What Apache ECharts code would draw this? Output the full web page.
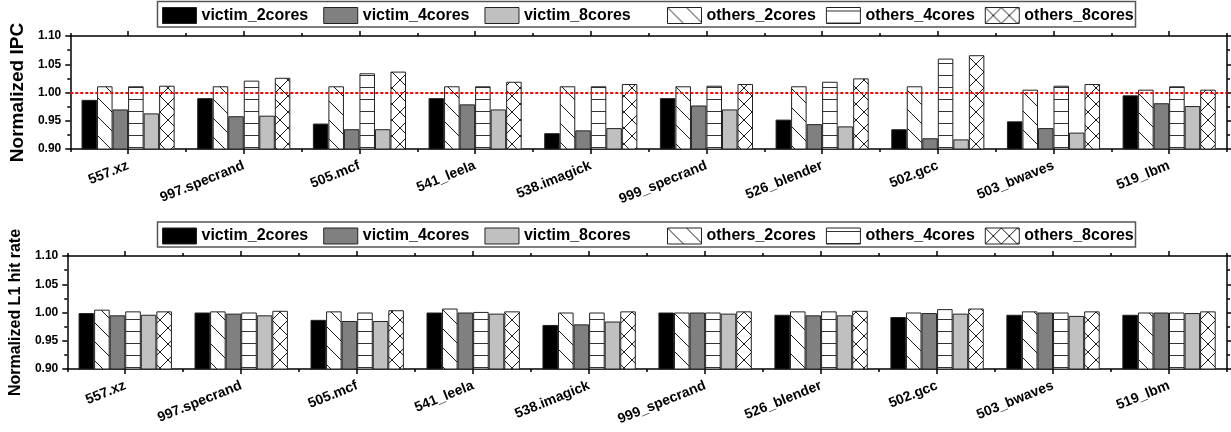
<!DOCTYPE html>
<html>
<head>
<meta charset="utf-8">
<style>
  html, body { margin: 0; padding: 0; background: #fff; }
  #chart { width: 1231px; height: 432px; }
</style>
<script src="https://cdn.jsdelivr.net/npm/echarts@6/dist/echarts.min.js"></script>
</head>
<body>
<div id="chart"></div>
<script>
// Benchmarks on the x axis
const categories = ['557.xz', '997.specrand', '505.mcf', '541_leela', '538.imagick',
                    '999_specrand', '526_blender', '502.gcc', '503_bwaves', '519_lbm'];

// Normalized IPC
const ipcVictim2 = [0.987, 0.990, 0.945, 0.990, 0.928, 0.990, 0.952, 0.935, 0.949, 0.995];
const ipcVictim4 = [0.970, 0.958, 0.935, 0.979, 0.933, 0.977, 0.944, 0.919, 0.937, 0.981];
const ipcVictim8 = [0.963, 0.959, 0.935, 0.970, 0.937, 0.970, 0.940, 0.917, 0.929, 0.976];
const ipcOthers2 = [1.011, 1.011, 1.011, 1.011, 1.011, 1.011, 1.011, 1.011, 1.005, 1.005];
const ipcOthers4 = [1.011, 1.021, 1.034, 1.011, 1.011, 1.012, 1.019, 1.060, 1.012, 1.011];
const ipcOthers8 = [1.012, 1.026, 1.037, 1.019, 1.015, 1.015, 1.025, 1.066, 1.015, 1.005];

// Normalized L1 hit rate
const l1Victim2 = [0.999, 1.000, 0.987, 1.000, 0.978, 1.000, 0.996, 0.992, 0.996, 0.996];
const l1Victim4 = [0.995, 0.998, 0.985, 1.000, 0.979, 1.000, 0.995, 0.999, 1.000, 1.000];
const l1Victim8 = [0.996, 0.995, 0.985, 0.998, 0.984, 0.998, 0.995, 0.998, 0.994, 0.999];
const l1Others2 = [1.005, 1.002, 1.002, 1.007, 1.000, 1.000, 1.002, 1.000, 1.002, 1.000];
const l1Others4 = [1.002, 1.000, 1.000, 1.001, 1.000, 1.000, 1.002, 1.006, 1.000, 1.000];
const l1Others8 = [1.002, 1.003, 1.004, 1.002, 1.002, 1.002, 1.003, 1.007, 1.002, 1.002];

// Y axis range and tick labels
const yMin = 0.90, yMax = 1.10, yStep = 0.05;
const yTickLabels = ['0.90', '0.95', '1.00', '1.05', '1.10'];

const victimNames = ['victim_2cores', 'victim_4cores', 'victim_8cores'];
const othersNames = ['others_2cores', 'others_4cores', 'others_8cores'];

const FONT = '"Liberation Sans", Arial, Helvetica, sans-serif';
const EDGE = '#222';

// ---- fill patterns ----
function makeTile(w, h, draw) {
  const c = document.createElement('canvas');
  c.width = w; c.height = h;
  const ctx = c.getContext('2d');
  ctx.fillStyle = '#fff';
  ctx.fillRect(0, 0, w, h);
  ctx.strokeStyle = '#1a1a1a';
  ctx.lineWidth = 1;
  draw(ctx, w, h);
  return { image: c, repeat: 'repeat' };
}
function diagTile() {
  return makeTile(19, 19, (ctx, s) => {
    ctx.beginPath();
    for (let k = -1; k <= 1; k++) { ctx.moveTo(k * s, 0); ctx.lineTo(k * s + s, s); }
    ctx.stroke();
  });
}
function horizTile(off) {
  return makeTile(8, 12, (ctx, w) => {
    ctx.strokeStyle = '#333';
    ctx.beginPath();
    ctx.moveTo(0, off + 0.5); ctx.lineTo(w, off + 0.5);
    ctx.stroke();
  });
}
function crossTile() {
  return makeTile(16, 16, (ctx, s) => {
    ctx.beginPath();
    for (let k = -1; k <= 1; k++) {
      ctx.moveTo(k * s, 0); ctx.lineTo(k * s + s, s);
      ctx.moveTo(k * s + s, 0); ctx.lineTo(k * s, s);
    }
    ctx.stroke();
  });
}

const chart = echarts.init(document.getElementById('chart'), null, { renderer: 'canvas' });

const xAxes = [], yAxes = [], grids = [], series = [], legends = [], graphics = [];

function addPanel(gi, vals, yName, nameSize, nameGap, gridTop, gridBottom, hatchOff, refLine, legendTop, boxY, boxH) {
  grids.push({ left: 64, right: 4, top: gridTop, bottom: gridBottom, containLabel: false });
  const axisLine = { show: true, lineStyle: { color: '#000', width: 1.5 } };
  const base = { type: 'category', gridIndex: gi, data: categories, boundaryGap: true };
  const x0 = xAxes.length;
  // bottom: long ticks at category centres with labels
  xAxes.push(Object.assign({}, base, {
    position: 'bottom', axisLine,
    axisTick: { show: true, alignWithLabel: true, interval: 0, length: 5, inside: false, lineStyle: { color: '#000', width: 1.5 } },
    axisLabel: { interval: 0, rotate: 22, margin: 16, fontFamily: FONT, fontWeight: 'bold', fontSize: 14, color: '#000' }
  }));
  // bottom: short ticks at category boundaries
  xAxes.push(Object.assign({}, base, {
    position: 'bottom', axisLine: { show: false },
    axisTick: { show: true, interval: 0, length: 3, lineStyle: { color: '#000', width: 1.5 } },
    axisLabel: { show: false }
  }));
  // top mirror
  xAxes.push(Object.assign({}, base, {
    position: 'top', axisLine,
    axisTick: { show: true, alignWithLabel: true, interval: 0, length: 5, lineStyle: { color: '#000', width: 1.5 } },
    axisLabel: { show: false }
  }));
  xAxes.push(Object.assign({}, base, {
    position: 'top', axisLine: { show: false },
    axisTick: { show: true, interval: 0, length: 3, lineStyle: { color: '#000', width: 1.5 } },
    axisLabel: { show: false }
  }));

  const yBase = {
    type: 'value', gridIndex: gi, min: yMin, max: yMax, interval: yStep,
    axisLine, splitLine: { show: false },
    axisTick: { show: true, length: 5, lineStyle: { color: '#000', width: 1.5 } },
    minorTick: { show: true, splitNumber: 2, length: 3, lineStyle: { color: '#000', width: 1.5 } },
    minorSplitLine: { show: false }
  };
  const y0 = yAxes.length;
  yAxes.push(Object.assign({}, yBase, {
    position: 'left',
    name: yName, nameLocation: 'middle', nameGap: nameGap,
    nameTextStyle: { fontFamily: FONT, fontWeight: 'bold', fontSize: nameSize, color: '#000' },
    axisLabel: {
      margin: 9, fontFamily: FONT, fontWeight: 'bold', fontSize: 12, color: '#000',
      formatter: v => yTickLabels[Math.round((v - yMin) / yStep)] || ''
    }
  }));
  yAxes.push(Object.assign({}, yBase, { position: 'right', axisLabel: { show: false } }));

  const fills = {
    'victim_2cores': '#000000',
    'others_2cores': diagTile(),
    'victim_4cores': '#808080',
    'others_4cores': horizTile(hatchOff),
    'victim_8cores': '#c0c0c0',
    'others_8cores': crossTile()
  };
  const order = ['victim_2cores', 'others_2cores', 'victim_4cores', 'others_4cores', 'victim_8cores', 'others_8cores'];
  order.forEach((name, i) => {
    const s = {
      type: 'bar', name, xAxisIndex: x0, yAxisIndex: y0,
      data: vals[name], clip: true,
      barGap: '0%', barCategoryGap: '19.5%',
      itemStyle: { color: fills[name], borderColor: EDGE, borderWidth: 1 },
      emphasis: { disabled: true }
    };
    if (refLine && i === order.length - 1) {
      s.markLine = {
        silent: true, symbol: ['none', 'none'], label: { show: false },
        lineStyle: { color: '#ff0000', width: 2.2, type: [3, 2] },
        data: [{ yAxis: 1.0 }]
      };
    }
    series.push(s);
  });

  const legendBase = {
    top: legendTop, orient: 'horizontal', padding: 0,
    icon: 'rect', itemWidth: 34, itemHeight: 16,
    itemStyle: { borderColor: EDGE, borderWidth: 1 },
    textStyle: { fontFamily: FONT, fontWeight: 'bold', fontSize: 16, color: '#000' },
    selectedMode: false
  };
  legends.push(Object.assign({}, legendBase, { left: 162, itemGap: 15, data: victimNames }));
  legends.push(Object.assign({}, legendBase, { left: 667, itemGap: 10, data: othersNames }));

  graphics.push({
    type: 'rect', silent: true, z: 0,
    shape: { x: 157.5, y: boxY, width: 978, height: boxH },
    style: { fill: 'none', stroke: '#555', lineWidth: 1.5 }
  });
}

addPanel(0, {
  'victim_2cores': ipcVictim2, 'victim_4cores': ipcVictim4, 'victim_8cores': ipcVictim8,
  'others_2cores': ipcOthers2, 'others_4cores': ipcOthers4, 'others_8cores': ipcOthers8
}, 'Normalized IPC', 19, 32, 36, 283, 3, true, 7, 1.5, 25.5);

addPanel(1, {
  'victim_2cores': l1Victim2, 'victim_4cores': l1Victim4, 'victim_8cores': l1Victim8,
  'others_2cores': l1Others2, 'others_4cores': l1Others4, 'others_8cores': l1Others8
}, 'Normalized L1 hit rate', 16, 31, 256, 63, 7, false, 227.5, 222, 25);

chart.setOption({
  animation: false,
  backgroundColor: '#ffffff',
  grid: grids,
  xAxis: xAxes,
  yAxis: yAxes,
  legend: legends,
  series: series,
  graphic: graphics
});
</script>
</body>
</html>
